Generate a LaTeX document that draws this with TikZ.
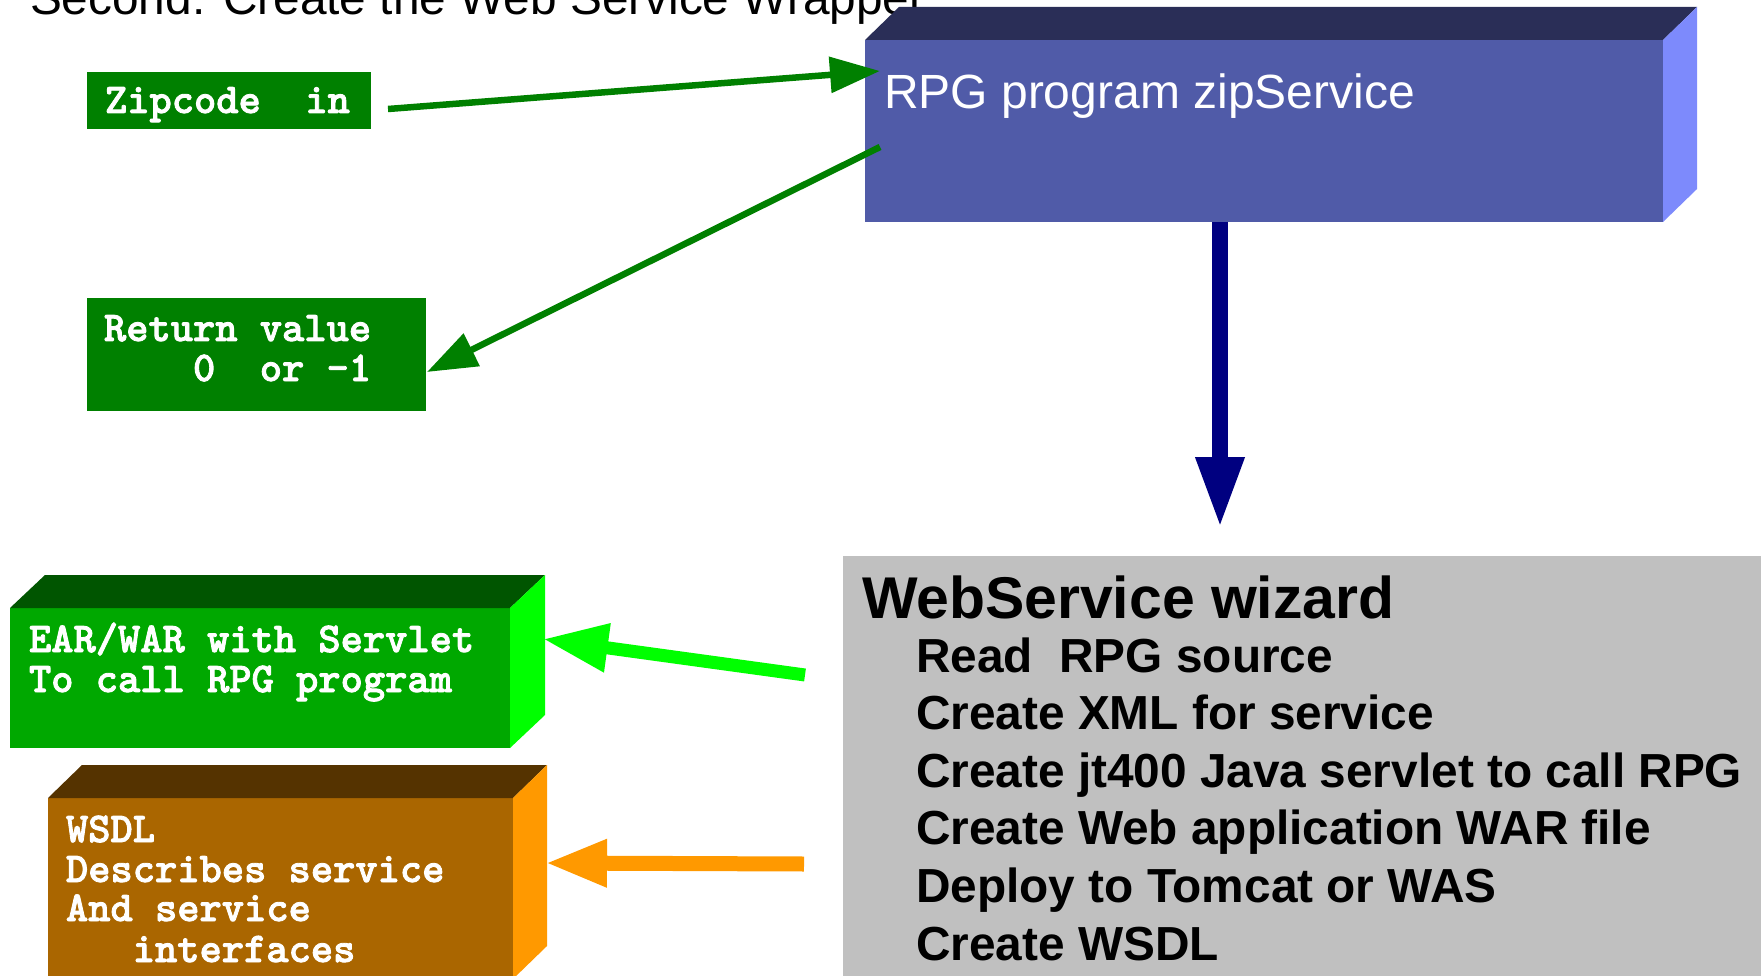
\documentclass[tikz,border=0pt]{standalone}
\usepackage{fontspec}
\setmainfont{Liberation Sans}
\newfontfamily\monofont{lmmonolt10-bold.otf}[FakeBold=2]
\usetikzlibrary{arrows.meta,calc}

\definecolor{zipgreen}{HTML}{008000}
\definecolor{rpgfront}{HTML}{505BA8}
\definecolor{rpgtop}{HTML}{2A2E57}
\definecolor{rpgside}{HTML}{7D8AFC}
\definecolor{earfront}{HTML}{00A800}
\definecolor{eartop}{HTML}{005500}
\definecolor{earside}{HTML}{00FF00}
\definecolor{wsdlfront}{HTML}{AA6600}
\definecolor{wsdltop}{HTML}{553300}
\definecolor{wsdlside}{HTML}{FF9900}
\definecolor{wizgray}{HTML}{C0C0C0}
\definecolor{navyblue}{HTML}{000080}

\begin{document}
\begin{tikzpicture}[x=1pt,y=-1pt,
  flat/.style={draw=none, inner sep=0pt, outer sep=0pt, anchor=north west},
  txt/.style={anchor=base west, inner sep=0pt, outer sep=0pt},
  monotext/.style={txt, text=white, font=\monofont\fontsize{42.4}{44}\selectfont},
  wizhead/.style={txt, font=\bfseries\fontsize{58.9}{60}\selectfont},
  wizitem/.style={txt, font=\bfseries\fontsize{47.8}{50}\selectfont},
  darkarrow/.style={draw=zipgreen, line width=6.5pt, -{Triangle[length=50pt,width=35pt]}},
  brightarrow/.style={draw=earside, line width=13pt, -{Triangle[length=65pt,width=46pt]}},
  orangearrow/.style={draw=wsdlside, line width=15pt, -{Triangle[length=62pt,width=44pt]}},
  bluearrow/.style={draw=navyblue, line width=15.5pt, -{Triangle[length=71pt,width=45pt]}}
]
\useasboundingbox (0,0) rectangle (1764,976);
\clip (0,0) rectangle (1764,976);

% heading
\node[txt, font=\fontsize{47.8}{50}\selectfont] (title) at (30,15) {Second: Create the Web Service Wrapper};

% RPG program block
\node[flat, fill=rpgfront, minimum width=798pt, minimum height=182pt] (rpg) at (865,40) {};
\fill[rpgtop] (rpg.north west) -- ++(34,-33) -- ($(rpg.north east)+(34,-33)$) -- (rpg.north east) -- cycle;
\fill[rpgside] (rpg.north east) -- ++(34,-33) -- ($(rpg.south east)+(34,-33)$) -- (rpg.south east) -- cycle;
\node[txt, text=white, font=\fontsize{48}{50}\selectfont] (rpgtxt) at (884,109) {RPG program zipService};

% parameter boxes
\node[flat, fill=zipgreen, minimum width=284pt, minimum height=57pt] (zip) at (87,72) {};
\node[monotext] (ziptxt) at (105,113) {Zipcode~~in};

\node[flat, fill=zipgreen, minimum width=339pt, minimum height=113pt] (ret) at (87,298) {};
\node[monotext] (ret1) at (104,341) {Return value};
\node[monotext] (ret2) at (104,381) {~~~~0~~or -1};

% EAR/WAR block
\node[flat, fill=earfront, minimum width=500pt, minimum height=140pt] (ear) at (10,608) {};
\fill[eartop] (ear.north west) -- ++(35,-33) -- ($(ear.north east)+(35,-33)$) -- (ear.north east) -- cycle;
\fill[earside] (ear.north east) -- ++(35,-33) -- ($(ear.south east)+(35,-33)$) -- (ear.south east) -- cycle;
\node[monotext] (ear1) at (29,652) {EAR/WAR with Servlet};
\node[monotext] (ear2) at (29,692) {To call RPG program};

% WSDL block
\node[flat, fill=wsdlfront, minimum width=465pt, minimum height=181pt] (wsdl) at (48,798) {};
\fill[wsdltop] (wsdl.north west) -- ++(34,-33) -- ($(wsdl.north east)+(34,-33)$) -- (wsdl.north east) -- cycle;
\fill[wsdlside] (wsdl.north east) -- ++(34,-33) -- ($(wsdl.south east)+(34,-33)$) -- (wsdl.south east) -- cycle;
\node[monotext] (wsdl1) at (66,842) {WSDL};
\node[monotext] (wsdl2) at (66,882) {Describes service};
\node[monotext] (wsdl3) at (66,921) {And service};
\node[monotext] (wsdl4) at (66,962) {~~~interfaces};

% wizard panel
\node[flat, fill=wizgray, minimum width=918pt, minimum height=425pt] (wiz) at (843,556) {};
\node[wizhead] (wizhd) at (862,618) {WebService wizard};
\node[wizitem] (step1) at (916,672) {Read~~RPG source};
\node[wizitem] (step2) at (916,729) {Create XML for service};
\node[wizitem] (step3) at (916,787) {Create jt400 Java servlet to call RPG};
\node[wizitem] (step4) at (916,844) {Create Web application WAR file};
\node[wizitem] (step5) at (916,902) {Deploy to Tomcat or WAS};
\node[wizitem] (step6) at (916,960) {Create WSDL};

% connectors
\coordinate (zipout) at ($(zip.east)+(17,8.5)$);
\coordinate (rpgin) at ($(rpg.north west)+(15,31)$);
\coordinate (rpgout) at ($(rpg.north west)+(15,107)$);
\coordinate (retin) at ($(ret.east)+(1,17.5)$);
\coordinate (rpgdown) at ($(rpg.south west)+(355,0)$);
\coordinate (wizin) at ($(wiz.north west)+(377,-28)$);
\coordinate (wizear) at ($(wiz.north west)+(-38,119)$);
\coordinate (earin) at ($(ear.north east)+(33,31)$);
\coordinate (wizwsdl) at ($(wiz.north west)+(-39,308)$);
\coordinate (wsdlin) at ($(wsdl.north east)+(32,65)$);

\draw[darkarrow] (zipout) -- (rpgin);
\draw[darkarrow] (rpgout) -- (retin);
\draw[bluearrow] (rpgdown) -- (wizin);
\draw[brightarrow] (wizear) -- (earin);
\draw[orangearrow] (wizwsdl) -- (wsdlin);
\end{tikzpicture}
\end{document}
